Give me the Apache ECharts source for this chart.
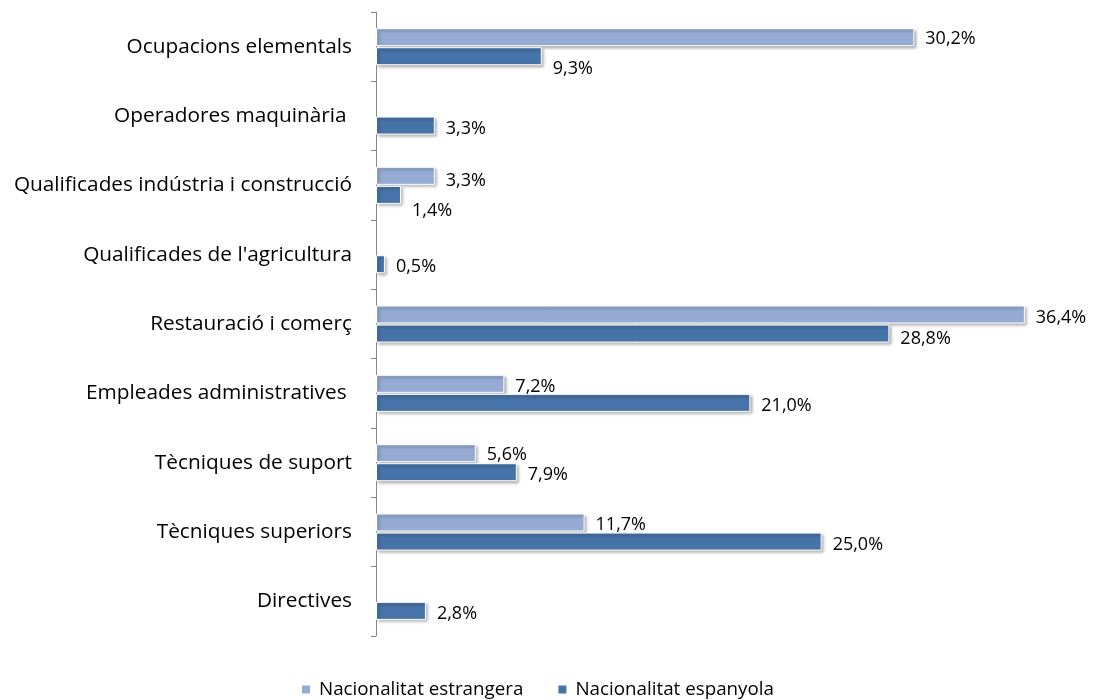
<!DOCTYPE html>
<html>
<head>
<meta charset="utf-8">
<script src="https://cdn.jsdelivr.net/npm/echarts@6/dist/echarts.min.js"></script>
<style>
  html, body { margin: 0; padding: 0; background: #fff; }
  #chart { width: 1107px; height: 700px; }
</style>
</head>
<body>
<div id="chart"></div>
<script>
// categories from top to bottom
var categories = [
  "Ocupacions elementals",
  "Operadores maquinària ",
  "Qualificades indústria i construcció",
  "Qualificades de l'agricultura",
  "Restauració i comerç",
  "Empleades administratives ",
  "Tècniques de suport",
  "Tècniques superiors",
  "Directives"
];
var seriesNames = ["Nacionalitat estrangera", "Nacionalitat espanyola"];
// null = no bar
var estrangera = [30.2, null, 3.3, null, 36.4, 7.2, 5.6, 11.7, null];
var espanyola = [9.3, 3.3, 1.4, 0.5, 28.8, 21.0, 7.9, 25.0, 2.8];

// small vertical nudges of the value labels, as in the original
var lightLabelShift = [2, 0, 5, 0, 3, 3, 2, 2, 0];
var darkLabelShift = [13, 3, 16, 3, 5, 3, 3, 3, 3];

var FONT = "'Open Sans', sans-serif";

function fmt(p) {
  return p.value.toFixed(1).replace(".", ",") + "%";
}

function toItems(values, shift) {
  return values.map(function (v, i) {
    if (v === null) return null;
    return { value: v, label: { offset: [0, shift[i]] } };
  });
}

var barStyle = function (color) {
  return {
    color: color,
    borderColor: "#fff",
    borderWidth: 1,
    shadowColor: "rgba(0,0,0,0.35)",
    shadowBlur: 3,
    shadowOffsetX: 2,
    shadowOffsetY: 2
  };
};

var valueLabel = {
  show: true,
  position: "right",
  distance: 11,
  fontSize: 18,
  color: "#000",
  fontFamily: FONT,
  formatter: fmt
};

var chart = echarts.init(document.getElementById("chart"));
chart.setOption({
  animation: false,
  textStyle: { fontFamily: FONT },
  grid: { left: 376, right: 18, top: 12, bottom: 64 },
  legend: {
    top: 675,
    left: 295,
    itemWidth: 10,
    itemHeight: 10,
    itemGap: 33,
    icon: "rect",
    textStyle: { fontSize: 18.8, color: "#000", fontFamily: FONT, padding: [0, 0, 0, 3] },
    data: seriesNames
  },
  xAxis: {
    type: "value",
    min: 0,
    max: 40,
    show: false
  },
  yAxis: {
    type: "category",
    inverse: true,
    data: categories,
    axisLine: { show: true, lineStyle: { color: "#888888", width: 1 } },
    axisTick: { show: true, length: 5, lineStyle: { color: "#888888" } },
    axisLabel: { fontSize: 20.8, color: "#000", margin: 24, fontFamily: FONT }
  },
  series: [
    {
      name: seriesNames[0],
      type: "bar",
      data: toItems(estrangera, lightLabelShift),
      barWidth: 18,
      barGap: "6%",
      itemStyle: barStyle("#95abd4"),
      label: valueLabel
    },
    {
      name: seriesNames[1],
      type: "bar",
      data: toItems(espanyola, darkLabelShift),
      barWidth: 18,
      itemStyle: barStyle("#4673a8"),
      label: valueLabel
    }
  ]
});
</script>
</body>
</html>
